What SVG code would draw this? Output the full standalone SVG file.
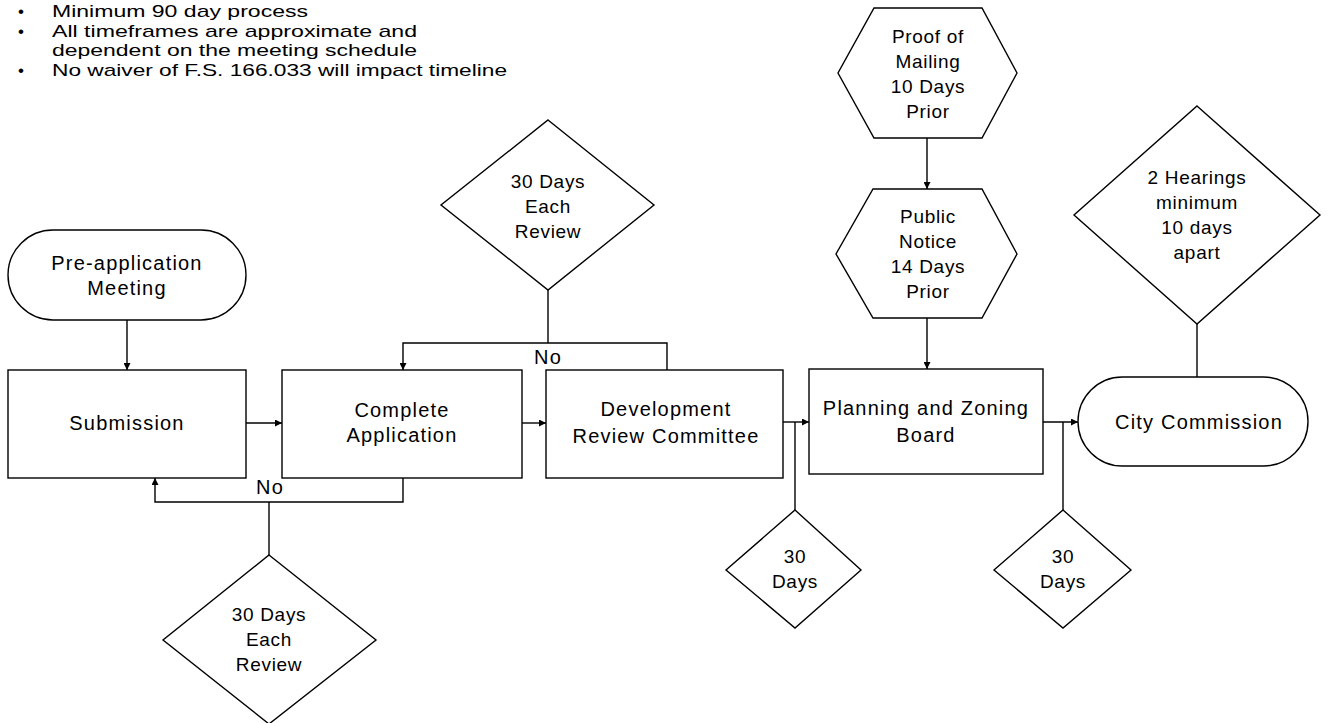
<svg xmlns="http://www.w3.org/2000/svg" width="1336" height="723" viewBox="0 0 1336 723">
<style>
.shape{fill:#fff;stroke:#000;stroke-width:1.4}
.t{font-family:"Liberation Sans",Arial,sans-serif;font-size:20px;letter-spacing:1.2px;text-anchor:middle;fill:#000}
.d{font-family:"Liberation Sans",Arial,sans-serif;font-size:19px;letter-spacing:0.7px;text-anchor:middle;fill:#000}
.b{font-family:"Liberation Sans",Arial,sans-serif;font-size:17px;fill:#000}
.c{fill:none;stroke:#000;stroke-width:1.4}
</style>
<defs>
<marker id="ah" viewBox="0 0 10 10" refX="10" refY="5" markerWidth="7" markerHeight="7" markerUnits="userSpaceOnUse" orient="auto">
<path d="M0,0 L10,5 L0,10 z" fill="#000"/>
</marker>
</defs>
<rect width="1336" height="723" fill="#fff"/>
<g id="notes">
<text class="b" x="18" y="17">•</text><text class="b" x="52" y="17" textLength="256" lengthAdjust="spacingAndGlyphs">Minimum  90 day process</text>
<text class="b" x="18" y="37">•</text><text class="b" x="52" y="37" textLength="365" lengthAdjust="spacingAndGlyphs">All  timeframes  are  approximate  and</text>
<text class="b" x="52" y="56" textLength="365" lengthAdjust="spacingAndGlyphs">dependent  on  the  meeting  schedule</text>
<text class="b" x="18" y="76">•</text><text class="b" x="52" y="76" textLength="455" lengthAdjust="spacingAndGlyphs">No waiver of F.S. 166.033 will impact timeline</text>
</g>
<g id="connectors">
<line class="c" x1="127" y1="320" x2="127" y2="370" marker-end="url(#ah)"/>
<line class="c" x1="246" y1="423" x2="282" y2="423" marker-end="url(#ah)"/>
<line class="c" x1="522" y1="423" x2="546" y2="423" marker-end="url(#ah)"/>
<line class="c" x1="783" y1="422" x2="809" y2="422" marker-end="url(#ah)"/>
<line class="c" x1="1043" y1="422" x2="1078" y2="422" marker-end="url(#ah)"/>
<polyline class="c" points="667,370 667,343 403,343 403,370" marker-end="url(#ah)"/>
<line class="c" x1="548" y1="290" x2="548" y2="343"/>
<polyline class="c" points="403,478 403,502 155,502 155,478" marker-end="url(#ah)"/>
<line class="c" x1="269" y1="502" x2="269" y2="555"/>
<line class="c" x1="795" y1="422" x2="795" y2="510"/>
<line class="c" x1="1063" y1="422" x2="1063" y2="510"/>
<line class="c" x1="927" y1="138" x2="927" y2="189" marker-end="url(#ah)"/>
<line class="c" x1="927" y1="318" x2="927" y2="369" marker-end="url(#ah)"/>
<line class="c" x1="1197" y1="324" x2="1197" y2="377"/>
<text class="t" x="548" y="364">No</text>
<text class="t" x="270" y="494">No</text>
</g>
<g id="preapp">
<rect class="shape" x="8" y="230" width="238" height="90" rx="45"/>
<text class="t" x="127" y="270">Pre-application</text>
<text class="t" x="127" y="295">Meeting</text>
</g>
<g id="submission">
<rect class="shape" x="8" y="370" width="238" height="108"/>
<text class="t" x="127" y="430">Submission</text>
</g>
<g id="complete">
<rect class="shape" x="282" y="370" width="240" height="108"/>
<text class="t" x="402" y="417">Complete</text>
<text class="t" x="402" y="442">Application</text>
</g>
<g id="drc">
<rect class="shape" x="546" y="370" width="237" height="108"/>
<text class="t" x="666" y="416">Development</text>
<text class="t" x="666" y="443">Review Committee</text>
</g>
<g id="pzb">
<rect class="shape" x="809" y="369" width="234" height="105"/>
<text class="t" x="926" y="415">Planning  and Zoning</text>
<text class="t" x="926" y="442">Board</text>
</g>
<g id="city">
<rect class="shape" x="1078" y="377" width="230" height="89" rx="44.5"/>
<text class="t" x="1199" y="429">City Commission</text>
</g>
<g id="review-top">
<polygon class="shape" points="548,120 654,205 548,290 441,205"/>
<text class="d" x="548" y="188">30 Days</text>
<text class="d" x="548" y="213">Each</text>
<text class="d" x="548" y="238">Review</text>
</g>
<g id="review-bottom">
<polygon class="shape" points="269,555 376,640 269,724 163,640"/>
<text class="d" x="269" y="621">30 Days</text>
<text class="d" x="269" y="646">Each</text>
<text class="d" x="269" y="671">Review</text>
</g>
<g id="days-1">
<polygon class="shape" points="795,510 861,570 795,628 726,570"/>
<text class="d" x="795" y="563">30</text>
<text class="d" x="795" y="588">Days</text>
</g>
<g id="days-2">
<polygon class="shape" points="1063,510 1131,570 1063,628 994,570"/>
<text class="d" x="1063" y="563">30</text>
<text class="d" x="1063" y="588">Days</text>
</g>
<g id="hearings">
<polygon class="shape" points="1197,106 1320,215 1197,324 1074,215"/>
<text class="d" x="1197" y="184">2 Hearings</text>
<text class="d" x="1197" y="209">minimum</text>
<text class="d" x="1197" y="234">10 days</text>
<text class="d" x="1197" y="259">apart</text>
</g>
<g id="mailing">
<polygon class="shape" points="874,8 982,8 1017,73 982,138 874,138 838,73"/>
<text class="d" x="928" y="43">Proof of</text>
<text class="d" x="928" y="68">Mailing</text>
<text class="d" x="928" y="93">10 Days</text>
<text class="d" x="928" y="118">Prior</text>
</g>
<g id="notice">
<polygon class="shape" points="873,189 982,189 1017,254 982,318 873,318 836,254"/>
<text class="d" x="928" y="223">Public</text>
<text class="d" x="928" y="248">Notice</text>
<text class="d" x="928" y="273">14 Days</text>
<text class="d" x="928" y="298">Prior</text>
</g>
</svg>
